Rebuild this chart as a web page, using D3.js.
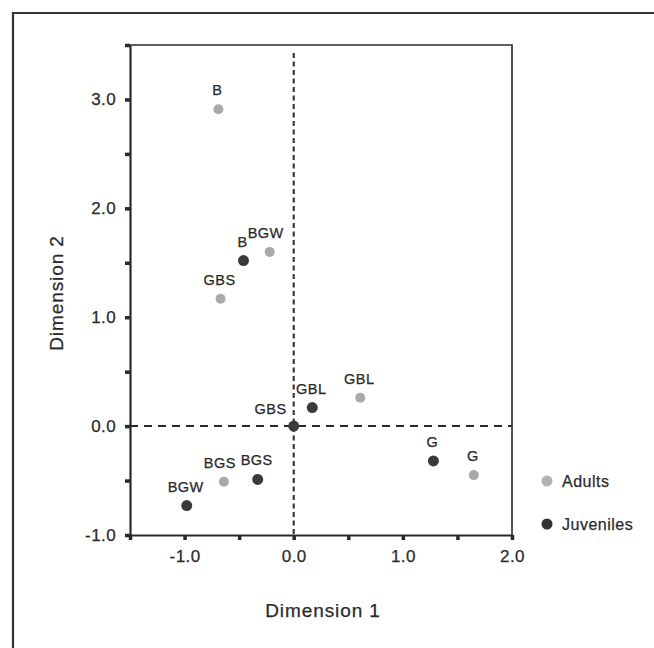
<!DOCTYPE html>
<html>
<head>
<meta charset="utf-8">
<script src="https://cdn.jsdelivr.net/npm/d3@7"></script>
<style>
  html, body { margin: 0; padding: 0; background: #ffffff; }
  svg { display: block; font-family: Arial, "Liberation Sans", Helvetica, sans-serif; }
</style>
</head>
<body>
<svg id="chart" width="654" height="648"></svg>
<script>
// ---- data ----
const groups = ["Adults", "Juveniles"];
const adultLabels = ["B", "BGW", "GBS", "GBL", "G", "BGS"];
const adultDim1   = [-0.69, -0.22, -0.67, 0.61, 1.65, -0.64];
const adultDim2   = [2.91, 1.60, 1.17, 0.26, -0.45, -0.51];
const juvLabels   = ["B", "GBL", "GBS", "BGS", "BGW", "G"];
const juvDim1     = [-0.46, 0.17, 0.00, -0.33, -0.98, 1.28];
const juvDim2     = [1.52, 0.17, 0.00, -0.49, -0.73, -0.32];
const xTickValues = [-1.5, -1.0, -0.5, 0.0, 0.5, 1.0, 1.5, 2.0];
const yTickValues = [-1.0, -0.5, 0.0, 0.5, 1.0, 1.5, 2.0, 2.5, 3.0, 3.5];
const xTitle = "Dimension 1";
const yTitle = "Dimension 2";

// ---- layout ----
const svg = d3.select("#chart");
const L = 130, R = 512, T = 45, B = 535;
const x = d3.scaleLinear().domain([-1.5, 2.0]).range([L, R]);
const y = d3.scaleLinear().domain([-1.0, 3.5]).range([B, T]);
const ink = "#2a2a2a";
const colors = { Adults: "#a9a9a9", Juveniles: "#3a3a3a" };
const heavy = sel => sel.attr("stroke", ink).attr("stroke-width", 0.25);

// outer page frame
svg.append("path")
  .attr("d", "M13,648 L13,13 L654,13")
  .attr("fill", "none").attr("stroke", "#333").attr("stroke-width", 2.2);

// plot box (top & right)
svg.append("path")
  .attr("d", `M${L},${T} L${R},${T} L${R},${B}`)
  .attr("fill", "none").attr("stroke", ink).attr("stroke-width", 1.6);

// reference dashed lines
svg.append("line")
  .attr("x1", x(0)).attr("x2", x(0)).attr("y1", T + 8).attr("y2", B)
  .attr("stroke", ink).attr("stroke-width", 2).attr("stroke-dasharray", "5,3.5");
svg.append("line")
  .attr("x1", L).attr("x2", R).attr("y1", y(0)).attr("y2", y(0))
  .attr("stroke", ink).attr("stroke-width", 2).attr("stroke-dasharray", "8,6");

const fmt = d => Number.isInteger(d) ? d.toFixed(1) : "";

// axes
const gx = svg.append("g").attr("transform", `translate(0,${B})`)
  .call(d3.axisBottom(x).tickValues(xTickValues).tickFormat(fmt).tickSize(5).tickSizeOuter(0).tickPadding(8));
const gy = svg.append("g").attr("transform", `translate(${L},0)`)
  .call(d3.axisLeft(y).tickValues(yTickValues).tickFormat(fmt).tickSize(5).tickSizeOuter(0).tickPadding(9));
[gx, gy].forEach(g => {
  g.select(".domain").attr("stroke", ink).attr("stroke-width", 2.2);
  g.selectAll(".tick line").attr("stroke", ink).attr("stroke-width", 3.5);
  g.selectAll(".tick text")
    .attr("fill", ink).style("font-size", "17px").style("letter-spacing", "0.4px")
    .style("font-family", "Arial, 'Liberation Sans', sans-serif")
    .call(heavy);
});
gx.selectAll(".tick text").attr("dy", "0.85em");

// axis titles
svg.append("text")
  .attr("x", (L + R) / 2 + 2).attr("y", 617)
  .attr("text-anchor", "middle").attr("fill", ink)
  .style("font-size", "19px").style("letter-spacing", "0.9px")
  .call(heavy)
  .text(xTitle);
svg.append("text")
  .attr("transform", `translate(63,${(T + B) / 2 + 3}) rotate(-90)`)
  .attr("text-anchor", "middle").attr("fill", ink)
  .style("font-size", "19px").style("letter-spacing", "0.9px")
  .call(heavy)
  .text(yTitle);

// points
const adults = adultLabels.map((lab, i) => ({ group: "Adults", label: lab, d1: adultDim1[i], d2: adultDim2[i] }));
const juveniles = juvLabels.map((lab, i) => ({ group: "Juveniles", label: lab, d1: juvDim1[i], d2: juvDim2[i] }));
const all = adults.concat(juveniles);

svg.append("g").selectAll("circle").data(all).join("circle")
  .attr("cx", d => x(d.d1)).attr("cy", d => y(d.d2))
  .attr("r", d => d.group === "Adults" ? 5 : 5.5)
  .attr("fill", d => colors[d.group]);

// labels: the juvenile GBS label sits left of its point, the rest above
const leftPlaced = d => d.group === "Juveniles" && d.label === "GBS";
const nudge = d => (d.group === "Adults" && (d.label === "BGS" || d.label === "BGW")) ? -4 : -1;
svg.append("g").selectAll("text").data(all).join("text")
  .attr("x", d => leftPlaced(d) ? x(d.d1) - 7 : x(d.d1) + nudge(d))
  .attr("y", d => leftPlaced(d) ? y(d.d2) - 12 : y(d.d2) - 14)
  .attr("text-anchor", d => leftPlaced(d) ? "end" : "middle")
  .attr("fill", ink)
  .style("font-size", "14.5px").style("letter-spacing", "0.5px")
  .call(heavy)
  .text(d => d.label);

// legend
const lg = svg.append("g").selectAll("g").data(groups).join("g")
  .attr("transform", (d, i) => `translate(547,${481 + i * 43})`);
lg.append("circle").attr("r", 5.5).attr("fill", d => d === "Adults" ? "#b3b3b3" : "#333");
lg.append("text").attr("x", 15).attr("y", 6)
  .attr("fill", ink).style("font-size", "16px").style("letter-spacing", "0.5px")
  .call(heavy)
  .text(d => d);
</script>
</body>
</html>
